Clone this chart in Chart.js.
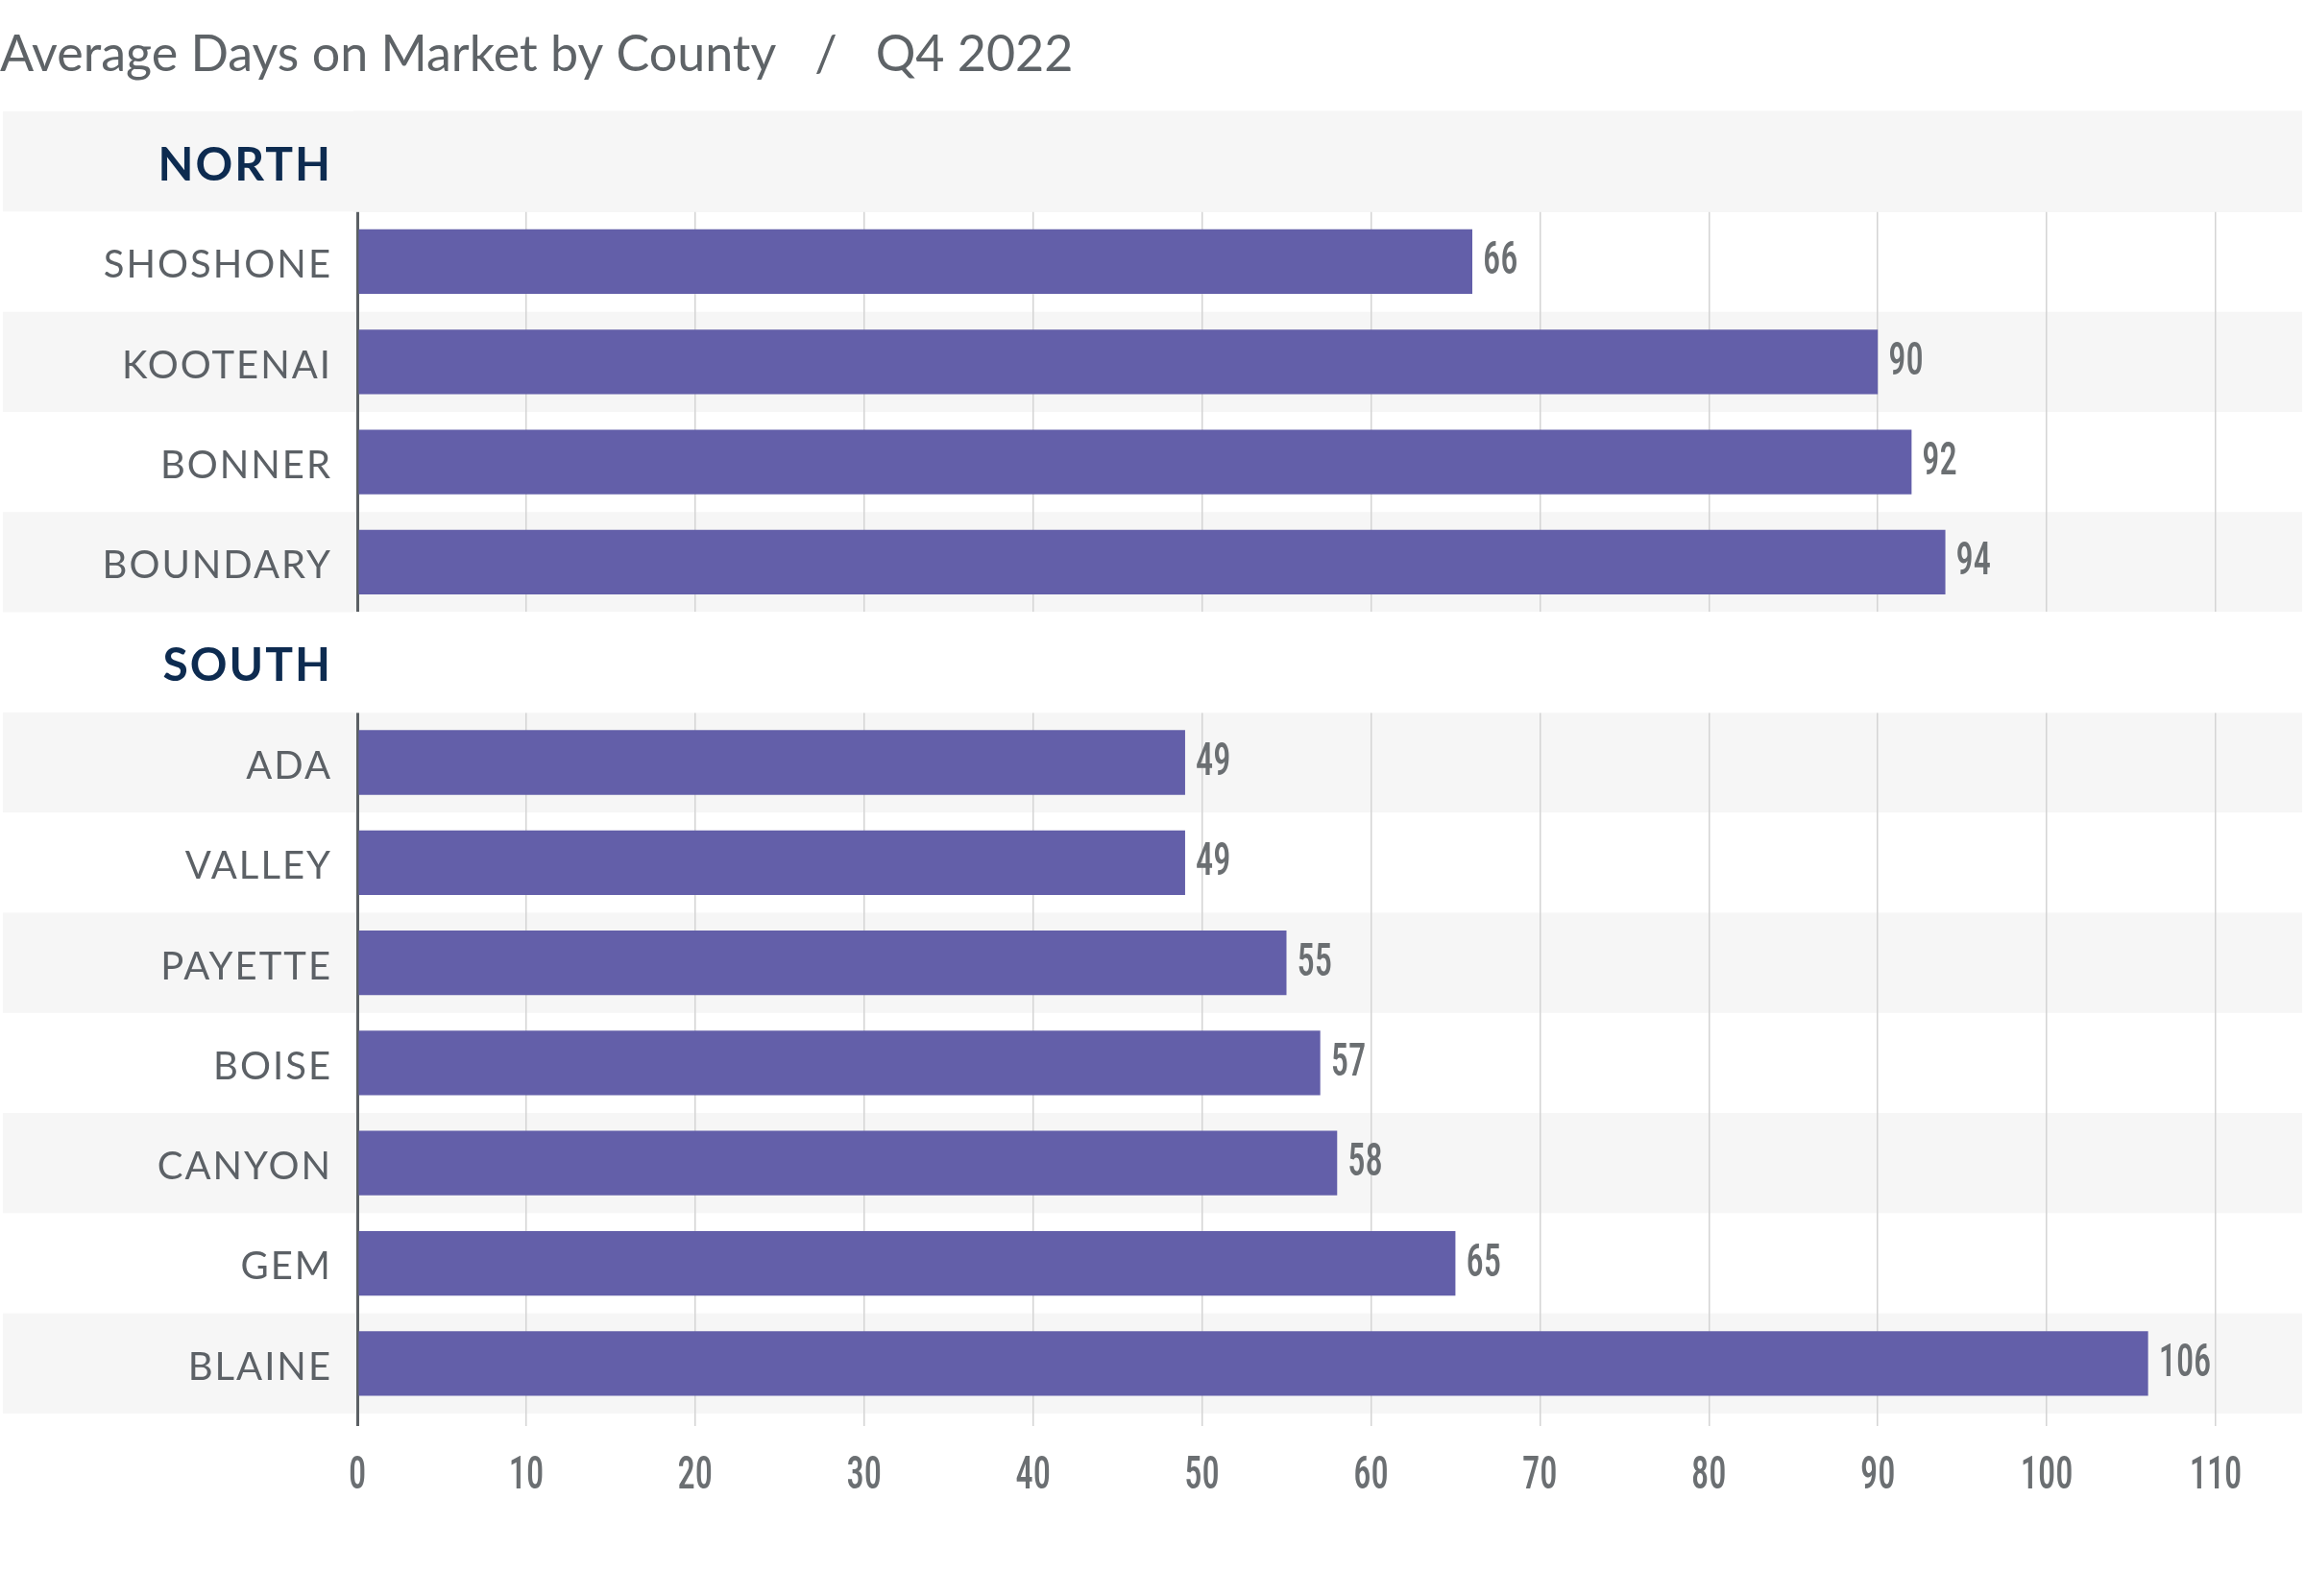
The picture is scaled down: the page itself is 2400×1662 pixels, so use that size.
<!DOCTYPE html>
<html>
<head>
<meta charset="utf-8">
<script src="https://cdn.jsdelivr.net/npm/chart.js@4.4.0/dist/chart.umd.min.js"></script>
<style>
  html, body { margin: 0; padding: 0; background: #ffffff; }
  #wrap { width: 2400px; height: 1662px; position: relative; }
</style>
</head>
<body>
<div id="wrap"><canvas id="chart" width="2400" height="1662"></canvas></div>
<script>
// ---------------- DATA ----------------
const titleText = 'Average Days on Market by County   /   Q4 2022';
const regions = ['NORTH', 'SOUTH'];
const northCounties = ['SHOSHONE', 'KOOTENAI', 'BONNER', 'BOUNDARY'];
const northDays = [66, 90, 92, 94];
const southCounties = ['ADA', 'VALLEY', 'PAYETTE', 'BOISE', 'CANYON', 'GEM', 'BLAINE'];
const southDays = [49, 49, 55, 57, 58, 65, 106];
const xTickValues = [0, 10, 20, 30, 40, 50, 60, 70, 80, 90, 100, 110];

// ---------------- BUILD ----------------
const labels = [regions[0], ...northCounties, regions[1], ...southCounties];
const values = [null, ...northDays, null, ...southDays];
const isHeader = labels.map(l => regions.includes(l));

const LABEL_FONT = 'Lato';
const NUM_FONT = "'Roboto Condensed', 'Liberation Sans Narrow', 'DejaVu Sans Condensed', sans-serif";
const NUM_SIZE = 48;
const NUM_WEIGHT = '500';
const NUM_SQUEEZE = 0.76;   // horizontal condensing of numeric text
const BAND_GRAY = '#f6f6f6';
const BAR_COLOR = '#635fa9';
const NUM_COLOR = '#6b6f72';

function squeezedFill(ctx, text, x, y) {
  ctx.save();
  ctx.translate(x, y);
  ctx.scale(NUM_SQUEEZE, 1);
  CanvasRenderingContext2D.prototype.fillText.call(ctx, text, 0, 0);
  ctx.restore();
}

const rowBands = {
  id: 'rowBands',
  beforeDraw(chart) {
    const { ctx } = chart;
    const ys = chart.scales.y;
    const h = ys.getPixelForValue(1) - ys.getPixelForValue(0);
    ctx.save();
    labels.forEach((l, i) => {
      if (i % 2 === 0) {
        const c = ys.getPixelForValue(i);
        ctx.fillStyle = BAND_GRAY;
        ctx.fillRect(3, c - h / 2, chart.width - 6, h);
      }
    });
    ctx.restore();
  },
  beforeDatasetsDraw(chart) {
    // hide grid & axis line inside the region header rows
    const { ctx, chartArea } = chart;
    const ys = chart.scales.y;
    const h = ys.getPixelForValue(1) - ys.getPixelForValue(0);
    ctx.save();
    labels.forEach((l, i) => {
      if (isHeader[i]) {
        const c = ys.getPixelForValue(i);
        ctx.fillStyle = (i % 2 === 0) ? BAND_GRAY : '#ffffff';
        ctx.fillRect(chartArea.left - 4, c - h / 2 - 0.5, chart.width - 3 - (chartArea.left - 4), h + 1);
      }
    });
    ctx.restore();
  },
  afterDatasetsDraw(chart) {
    const { ctx } = chart;
    const meta = chart.getDatasetMeta(0);
    const data = chart.data.datasets[0].data;
    ctx.save();
    ctx.fillStyle = NUM_COLOR;
    ctx.font = NUM_WEIGHT + ' ' + NUM_SIZE + 'px ' + NUM_FONT;
    ctx.textAlign = 'left';
    ctx.textBaseline = 'middle';
    meta.data.forEach((bar, i) => {
      const v = data[i];
      if (v === null || v === undefined) return;
      squeezedFill(ctx, String(v), bar.x + 11, bar.y + 1);
    });
    ctx.restore();
  },
  afterLayout(chart) {
    const ys = chart.scales.y;
    if (!ys._patched) {
      const orig = ys.drawLabels.bind(ys);
      ys.drawLabels = function (ca) {
        const c = this.ctx;
        const prev = c.letterSpacing;
        c.letterSpacing = '2px';
        orig(ca);
        c.letterSpacing = prev || '0px';
      };
      ys._patched = true;
    }
    const xs = chart.scales.x;
    if (!xs._patched) {
      const origX = xs.drawLabels.bind(xs);
      xs.drawLabels = function (ca) {
        const c = this.ctx;
        c.fillText = function (t, x, y) { squeezedFill(c, t, x, y); };
        origX(ca);
        delete c.fillText;
      };
      xs._patched = true;
    }
  }
};

new Chart(document.getElementById('chart'), {
  type: 'bar',
  data: {
    labels: labels,
    datasets: [{
      data: values,
      backgroundColor: BAR_COLOR,
      borderWidth: 0,
      barPercentage: 0.645,
      categoryPercentage: 1.0
    }]
  },
  options: {
    indexAxis: 'y',
    responsive: false,
    devicePixelRatio: 1,
    animation: false,
    layout: { padding: { left: 0, right: 93, top: 0, bottom: 0 } },
    plugins: {
      legend: { display: false },
      tooltip: { enabled: false },
      title: {
        display: true,
        text: titleText,
        align: 'start',
        color: '#5e6367',
        font: { family: LABEL_FONT, size: 52, weight: 'normal', lineHeight: 1.2 },
        padding: { top: 26, bottom: 27.6 }
      }
    },
    scales: {
      y: {
        type: 'category',
        offset: true,
        grid: { display: false },
        border: { display: false },
        ticks: {
          autoSkip: false,
          padding: 18,
          labelOffset: 4,
          color: ctx => isHeader[ctx.index] ? '#0d2b50' : '#5c6166',
          font: ctx => isHeader[ctx.index]
            ? { family: LABEL_FONT, size: 48, weight: 'bold' }
            : { family: LABEL_FONT, size: 40, weight: 'normal' }
        },
        afterFit: s => { s.width = 372; }
      },
      x: {
        type: 'linear',
        min: 0,
        max: 110,
        afterBuildTicks: s => { s.ticks = xTickValues.map(v => ({ value: v })); },
        grid: {
          color: ctx => (ctx.tick && ctx.tick.value === 0) ? '#5b6064' : '#d4d4d4',
          lineWidth: ctx => (ctx.tick && ctx.tick.value === 0) ? 3 : 1.5,
          drawTicks: true,
          tickLength: 13
        },
        border: { display: false },
        ticks: {
          color: NUM_COLOR,
          font: { family: NUM_FONT, size: NUM_SIZE, weight: NUM_WEIGHT },
          padding: 24,
          maxRotation: 0
        },
        afterFit: s => { s.height = 190; }
      }
    }
  },
  plugins: [rowBands]
});
</script>
</body>
</html>
